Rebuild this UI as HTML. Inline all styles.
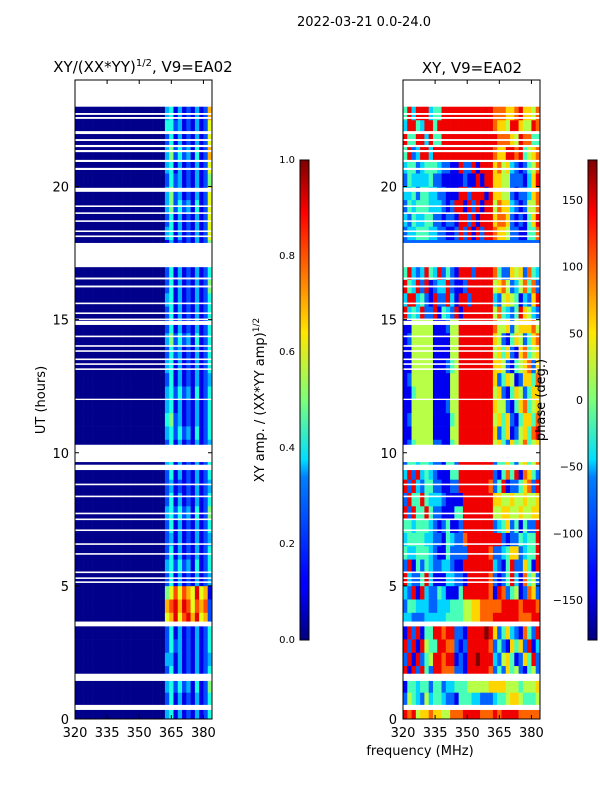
<!DOCTYPE html>
<html><head><meta charset="utf-8">
<style>
body{margin:0;background:#fff;width:600px;height:800px;overflow:hidden;font-family:"Liberation Sans",sans-serif}
svg text{font-family:"DejaVu Sans","Liberation Sans",sans-serif;fill:#000}
</style></head>
<body>
<svg id="fig" width="600" height="800" xmlns="http://www.w3.org/2000/svg">
<defs>
<linearGradient id="jetv" x1="0" y1="1" x2="0" y2="0">
<stop offset="0" stop-color="#00007f"/><stop offset="0.11" stop-color="#0000ff"/><stop offset="0.125" stop-color="#0000ff"/>
<stop offset="0.34" stop-color="#0080ff"/><stop offset="0.375" stop-color="#00ddff"/><stop offset="0.5" stop-color="#7dff7a"/>
<stop offset="0.64" stop-color="#ffe600"/><stop offset="0.75" stop-color="#ff8000"/><stop offset="0.89" stop-color="#ff0000"/><stop offset="1" stop-color="#7f0000"/>
</linearGradient>
</defs>
<text x="364" y="26" font-size="13" text-anchor="middle">2022-03-21 0.0-24.0</text>
<text x="143" y="72" font-size="15" text-anchor="middle">XY/(XX*YY)<tspan font-size="10" dy="-6">1/2</tspan><tspan dy="6">, V9=EA02</tspan></text>
<text x="472" y="73" font-size="15" text-anchor="middle">XY, V9=EA02</text>
<g id="ampPanel"></g>
<g id="phPanel"></g>
<g id="axes"></g>
<text transform="translate(45,400) rotate(-90)" font-size="13" text-anchor="middle">UT (hours)</text>
<text x="420" y="755" font-size="13" text-anchor="middle">frequency (MHz)</text>
<rect x="300" y="160" width="9" height="480" fill="url(#jetv)" stroke="#000" stroke-width="1"/>
<rect x="588" y="160" width="9" height="480" fill="url(#jetv)" stroke="#000" stroke-width="1"/>
<text transform="translate(264,400) rotate(-90)" font-size="13" text-anchor="middle">XY amp. / (XX*YY amp)<tspan font-size="9" dy="-5">1/2</tspan></text>
<text transform="translate(545,400) rotate(-90)" font-size="13" text-anchor="middle">phase (deg.)</text>
</svg>
<script>
const NS="http://www.w3.org/2000/svg";
const freqStart=320, freqStep=2, nCols=32, hourStep=0.5;
const xTicks=[320,335,350,365,380];
const yTicks=[0,5,10,15,20];
const ampTicks=[0.0,0.2,0.4,0.6,0.8,1.0];
const phaseTicks=[-150,-100,-50,0,50,100,150];
// amplitude: columns 0..20 (320-362 MHz) low baseline, tail columns 362-384 per row (digit = value*10)
const ampBase=0.01;
const ampTails=[
"34131213124","24131213124","34242314125","24131213124","33131213123","24231213124","24131213124","67968979672","78979868782","56868769671",
"24131213123","34242314124","24131213124","23131213123","24131213124","34242314125","24131213124","23121213123","24131213124","34131213124",
"24131213123","34242314124","45231213124","34131213124","34242314124","24131213123","34131213124","24231213124","35242314124","24131213124",
"24131213124","34131213124","24131213125","24131213124","24131213124","13121213125","34131213126","24131213126","35242314126","35231213126",
"24231213125","34131213126","35242314127","24131213126","44231213126","34131213127"];
// phase: digit d -> -180 + d*40 deg
const phaseRows=[
"87856676655777888877787888877777","25432534432214443322234456654445","14434424423344455555666655545556","81828428877722188888724264521452",
"28182458878812188988832564126482","82818544887721288888724216462813","18281448878822188889862463217428","33222333334444556677788888877788",
"24433322333444556677777888878887","32818322431114888888718724512762","83224831113322188888721248317452","28142432233211888888832148226418",
"43344432114222288888722346623448","34444332214322788888888212243448","44344432124112888888823462414228","82844842211144888888855665565566",
"28448433321111888888866556556556","82832442211228888888724812246728","38283432111448888888821474817642","24434432214428888888824464256457",
"12455552211458888888856426457456","11555551111558888888862461256478","12555551111458888888856462146647","11555551112558888888865521467456",
"11455551111558888888856214652466","12555551111558888888862465126647","11555551112458888888866521456726","11555551111558888888856462167456",
"12555551111558888888865214652467","11555551112558888888875562566675","83438228143281888888857432486532","38834218228318828888832565413268",
"84382812338211288888856752357472","48323843824218882888874226562743","22222222222222222222222222222222","22222222222222222222222222222222",
"23344433221128281828876652211447","32433442212218828188867762121468","24344433321288182818857663212557","33424433221118828881866552122367",
"24333342211111211818866552221368","34423444322118228188867563212457","48238838888888888888876688784567","84488384488888888888887776587744",
"38843884888888888888876658865587","48388834488888888888877766786657"];
// flagged (blank) time ranges in hours
const flagStart=[23.0,22.69,22.54,21.97,21.71,21.48,21.29,20.92,20.62,19.80,19.23,18.97,18.67,18.29,18.10,16.97,16.51,16.21,15.58,15.21,14.98,14.80,14.34,13.98,13.79,13.48,13.30,13.11,11.98,9.65,9.35,8.78,8.33,7.69,7.47,7.06,6.54,6.17,5.48,5.26,5.11,3.48,1.43,0.34];
const flagEnd=  [24.0,22.76,22.61,22.08,21.78,21.56,21.37,21.00,20.70,19.95,19.29,19.03,18.73,18.35,18.16,17.88,16.58,16.28,15.64,15.27,15.04,14.95,14.40,14.04,13.85,13.54,13.36,13.17,12.03,10.30,9.55,8.84,8.39,7.75,7.53,7.12,6.60,6.23,5.54,5.32,5.17,3.66,1.70,0.53];

function jet(v){v=Math.max(0,Math.min(1,v));
 const r=Math.max(0,Math.min(1,1.5-Math.abs(4*v-3))),g=Math.max(0,Math.min(1,1.5-Math.abs(4*v-2))),b=Math.max(0,Math.min(1,1.5-Math.abs(4*v-1)));
 return `rgb(${Math.round(r*255)},${Math.round(g*255)},${Math.round(b*255)})`;}
function mk(t,a,p){const e=document.createElementNS(NS,t);for(const k in a)e.setAttribute(k,a[k]);(p||document.getElementById('fig')).appendChild(e);return e;}
const panels=[{x0:75,id:'ampPanel'},{x0:403,id:'phPanel'}];
const Y0=719,Y1=80,W=137;
const yS=h=>Y0-(h/24)*(Y0-Y1);
function xS(x0,f){return x0+(f-320)/64*W;}

// amplitude heatmap
{const g=document.getElementById('ampPanel');
 ampTails.forEach((s,r)=>{for(let c=0;c<nCols;c++){
   const v=c<21?ampBase:(+s[c-21])/10;
   const f=freqStart+c*freqStep,h=r*hourStep;
   const el=mk('rect',{x:xS(75,f),y:yS(h+hourStep),width:xS(75,f+freqStep)-xS(75,f)+0.3,height:yS(h)-yS(h+hourStep)+0.3,fill:jet(v)},g);
   
   }});}
// phase heatmap
{const g=document.getElementById('phPanel');
 phaseRows.forEach((s,r)=>{for(let c=0;c<nCols;c++){
   const deg=-180+(+s[c])*40;
   const f=freqStart+c*freqStep,h=r*hourStep;
   const el=mk('rect',{x:xS(403,f),y:yS(h+hourStep),width:xS(403,f+freqStep)-xS(403,f)+0.3,height:yS(h)-yS(h+hourStep)+0.3,fill:jet((deg+180)/360)},g);
   
   }});}
// flags + axes
const ax=document.getElementById('axes');
panels.forEach(p=>{
 flagStart.forEach((s,i)=>{const el=mk('rect',{x:p.x0,y:yS(flagEnd[i]),width:W,height:yS(s)-yS(flagEnd[i]),fill:'#fff'},ax);
  
  });
 const fr=mk('rect',{x:p.x0,y:Y1,width:W,height:Y0-Y1,fill:'none',stroke:'#000','stroke-width':1},ax);
 
 
 xTicks.forEach(t=>{const x=xS(p.x0,t);
  mk('line',{x1:x,x2:x,y1:Y0,y2:Y0-4,stroke:'#000'},ax);mk('line',{x1:x,x2:x,y1:Y1,y2:Y1+4,stroke:'#000'},ax);
  const tx=mk('text',{x:x,y:Y0+18,'font-size':13,'text-anchor':'middle'},ax);tx.textContent=t;
  
  });
 yTicks.forEach(t=>{const y=yS(t);
  mk('line',{x1:p.x0,x2:p.x0+4,y1:y,y2:y,stroke:'#000'},ax);mk('line',{x1:p.x0+W,x2:p.x0+W-4,y1:y,y2:y,stroke:'#000'},ax);
  const tx=mk('text',{x:p.x0-6,y:y+5,'font-size':13,'text-anchor':'end'},ax);tx.textContent=t;
  
  });
});
ampTicks.forEach(t=>{const y=640-t*480;mk('line',{x1:300,x2:303,y1:y,y2:y,stroke:'#000'},ax);mk('line',{x1:309,x2:306,y1:y,y2:y,stroke:'#000'},ax);
 const tx=mk('text',{x:295,y:y+3,'font-size':10,'text-anchor':'end'},ax);tx.textContent=t.toFixed(1);
 
 });
phaseTicks.forEach(t=>{const y=400-t*480/360;mk('line',{x1:588,x2:591,y1:y,y2:y,stroke:'#000'},ax);mk('line',{x1:597,x2:594,y1:y,y2:y,stroke:'#000'},ax);
 const tx=mk('text',{x:583,y:y+4,'font-size':11,'text-anchor':'end'},ax);tx.textContent=t<0?'\u2212'+(-t):t;
 
 });
</script>
</body></html>
